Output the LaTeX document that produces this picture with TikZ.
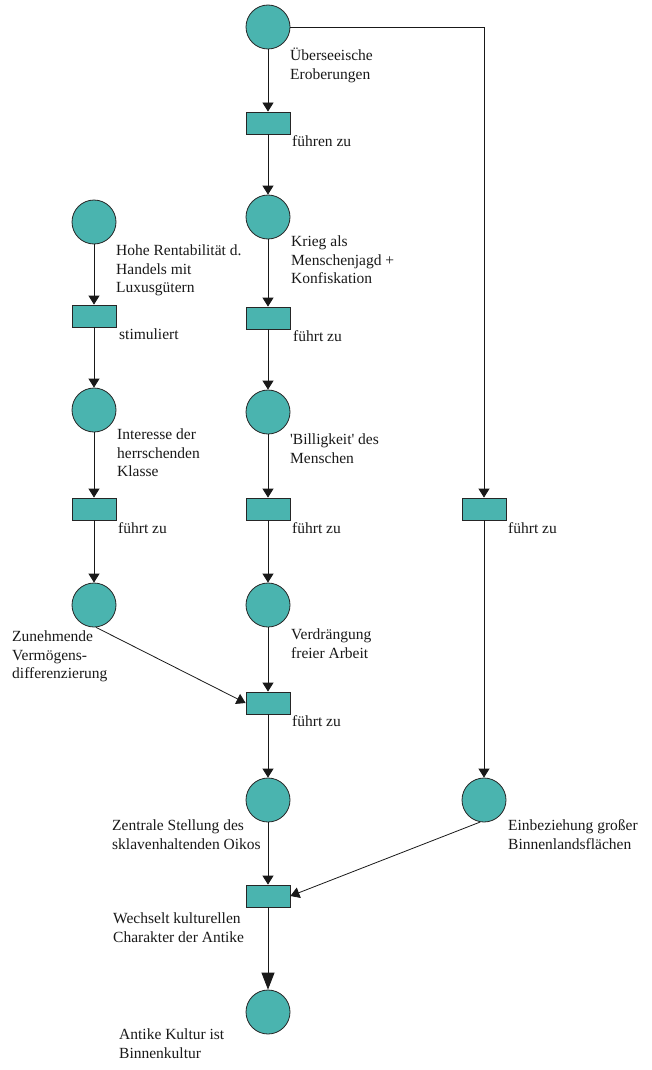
\documentclass[tikz,border=0pt]{standalone}
\usepackage{fontspec}
\setmainfont{Liberation Serif}
\usetikzlibrary{arrows.meta}
\definecolor{tealc}{RGB}{74,180,175}
\newcommand{\lblfont}{\fontsize{15.5}{18.5}\selectfont}
\tikzset{
  place/.style={circle, draw=black!85, fill=tealc, minimum size=44pt, inner sep=0pt, line width=0.8pt},
  trans/.style={rectangle, draw=black!85, fill=tealc, minimum width=44pt, minimum height=22pt, inner sep=0pt, line width=0.8pt},
  lbl/.style={anchor=north west, inner sep=0pt, align=left, font=\lblfont, text=black!90},
  arr/.style={-{Triangle[width=11pt,length=9pt]}, line width=0.8pt, draw=black!90},
  bigarr/.style={-{Triangle[width=13pt,length=17pt]}, line width=0.8pt, draw=black!90},
}
\begin{document}
\begin{tikzpicture}[x=1pt,y=-1pt]
\useasboundingbox (0,0) rectangle (651,1070);
\fill[white] (0,0) rectangle (651,1070);
% middle column
\node[place] (p1) at (268,27) {};
\node[trans] (t1) at (268,123) {};
\node[place] (p2) at (268,217) {};
\node[trans] (t2) at (268,318) {};
\node[place] (p3) at (268,412) {};
\node[trans] (t3) at (268,509) {};
\node[place] (p4) at (268,605) {};
\node[trans] (t4) at (268,703) {};
\node[place] (p5) at (268,800) {};
\node[trans] (t5) at (268,896) {};
\node[place] (p6) at (268,1012) {};
% left column
\node[place] (q1) at (94,222) {};
\node[trans] (s1) at (94,316) {};
\node[place] (q2) at (94,410) {};
\node[trans] (s2) at (94,509) {};
\node[place] (q3) at (94,605) {};
% right column
\node[trans] (r1) at (484,509) {};
\node[place] (r2) at (484,800) {};
\coordinate (corner) at (484,27);

% connectors
\draw[arr] (p1) -- (t1);
\draw[arr] (t1) -- (p2);
\draw[arr] (p2) -- (t2);
\draw[arr] (t2) -- (p3);
\draw[arr] (p3) -- (t3);
\draw[arr] (t3) -- (p4);
\draw[arr] (p4) -- (t4);
\draw[arr] (t4) -- (p5);
\draw[arr] (p5) -- (t5);
\draw[bigarr] (t5) -- (p6);
\draw[arr] (q1) -- (s1);
\draw[arr] (s1) -- (q2);
\draw[arr] (q2) -- (s2);
\draw[arr] (s2) -- (q3);
\draw[arr] (q3.-85) -- (t4.west);
\draw[arr] (p1.east) -- (corner) -- (r1.north);
\draw[arr] (r1) -- (r2);
\draw[arr] (r2.-100) -- (t5.east);

% labels
\node[lbl] (l1) at (290,47.5) {\strut Überseeische\\Eroberungen};
\node[lbl] (l2) at (292,133.5) {\strut führen zu};
\node[lbl] (l3) at (291,233.5) {\strut Krieg als\\Menschenjagd +\\Konfiskation};
\node[lbl] (l4) at (293,328.5) {\strut führt zu};
\node[lbl] (l5) at (290,431.5) {\strut \textquotesingle Billigkeit\textquotesingle{} des\\Menschen};
\node[lbl] (l6) at (292,520.5) {\strut führt zu};
\node[lbl] (l7) at (291,626.5) {\strut Verdrängung\\freier Arbeit};
\node[lbl] (l8) at (292,713.5) {\strut führt zu};
\node[lbl] (l9) at (112,817.5) {\strut Zentrale Stellung des\\sklavenhaltenden Oikos};
\node[lbl] (l10) at (113,910.5) {\strut Wechselt kulturellen\\Charakter der Antike};
\node[lbl] (l11) at (119,1026.5) {\strut Antike Kultur ist\\Binnenkultur};
\node[lbl] (l12) at (508,817.5) {\strut Einbeziehung großer\\Binnenlandsflächen};
\node[lbl] (l13) at (116,242.5) {\strut Hohe Rentabilität d.\\Handels mit\\Luxusgütern};
\node[lbl] (l14) at (119,326.5) {\strut stimuliert};
\node[lbl] (l15) at (117,426.5) {\strut Interesse der\\herrschenden\\Klasse};
\node[lbl] (l16) at (118,520.5) {\strut führt zu};
\node[lbl] (l17) at (12,628.5) {\strut Zunehmende\\Vermögens-\\differenzierung};
\node[lbl] (l18) at (508,520.5) {\strut führt zu};
\end{tikzpicture}
\end{document}
